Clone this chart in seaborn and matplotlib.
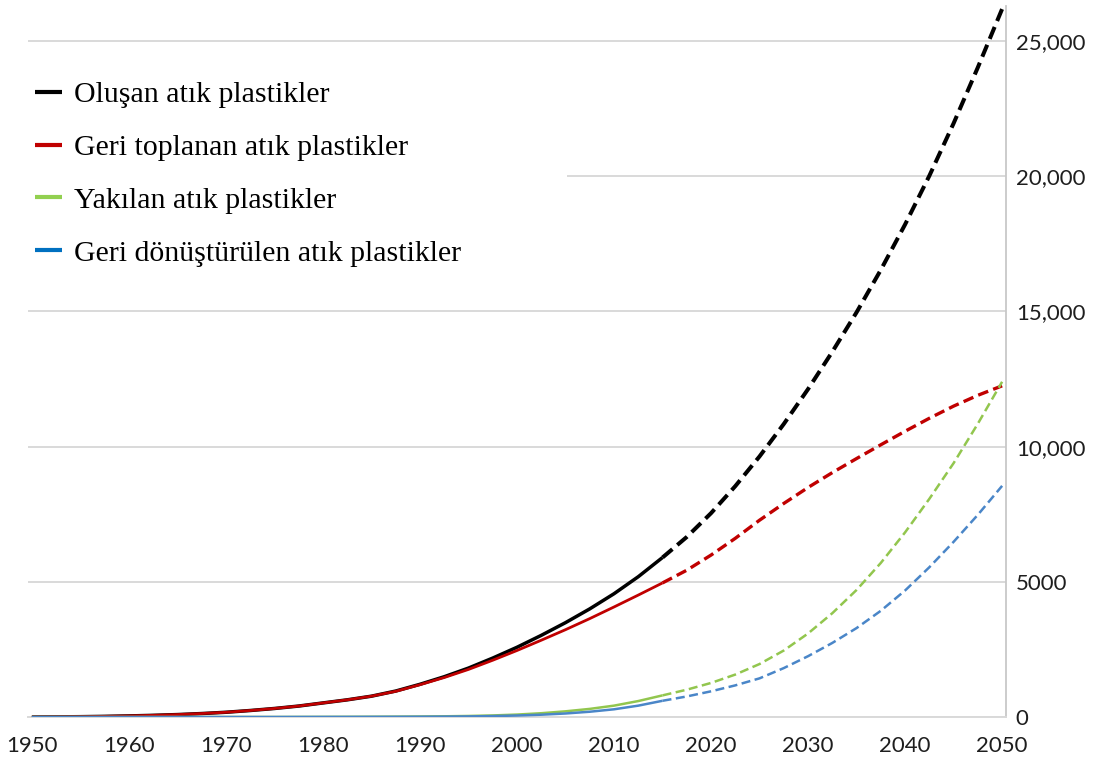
import matplotlib
matplotlib.use("Agg")
import matplotlib.pyplot as plt
import pandas as pd
import seaborn as sns
from matplotlib.lines import Line2D


# cumulative plastic waste, million tonnes (every 2.5 years)
YEARS_HIST = [1950, 1952.5, 1955, 1957.5, 1960, 1962.5, 1965, 1967.5, 1970, 1972.5,
              1975, 1977.5, 1980, 1982.5, 1985, 1987.5, 1990, 1992.5, 1995, 1997.5,
              2000, 2002.5, 2005, 2007.5, 2010, 2012.5, 2015]
YEARS_PROJ = [2015, 2017.5, 2020, 2022.5, 2025, 2027.5, 2030, 2032.5, 2035, 2037.5,
              2040, 2042.5, 2045, 2047.5, 2050]

GENERATED_HIST = [0, 5, 12, 24, 40, 62, 90, 128, 175, 240,
                  315, 405, 520, 635, 770, 960, 1210, 1490, 1810, 2180,
                  2580, 3020, 3490, 4000, 4560, 5190, 5900]
GENERATED_PROJ = [5900, 6660, 7540, 8540, 9640, 10840, 12130, 13510, 14970, 16540,
                  18220, 20020, 21960, 24030, 26190]
COLLECTED_HIST = [0, 5, 12, 24, 40, 62, 90, 128, 175, 240,
                  315, 405, 520, 635, 770, 950, 1195, 1460, 1760, 2100,
                  2460, 2840, 3230, 3640, 4070, 4510, 4960]
COLLECTED_PROJ = [4960, 5430, 5990, 6610, 7280, 7900, 8490, 9040, 9560, 10070,
                  10570, 11050, 11500, 11900, 12250]
INCINERATED_HIST = [0, 0, 0, 0, 0, 0, 0, 0, 0, 0,
                    0, 2, 4, 6, 9, 13, 18, 26, 38, 58,
                    90, 140, 210, 300, 420, 590, 800]
INCINERATED_PROJ = [800, 1010, 1260, 1570, 1960, 2460, 3090, 3840, 4700, 5700,
                    6830, 8070, 9390, 10850, 12400]
RECYCLED_HIST = [0, 0, 0, 0, 0, 0, 0, 0, 0, 0,
                 0, 1, 2, 3, 5, 7, 10, 15, 22, 35,
                 55, 85, 130, 195, 285, 420, 600]
RECYCLED_PROJ = [600, 760, 950, 1170, 1430, 1810, 2250, 2740, 3290, 3930,
                 4680, 5540, 6480, 7480, 8550]

LABELS = [
    "Oluşan atık plastikler",
    "Geri toplanan atık plastikler",
    "Yakılan atık plastikler",
    "Geri dönüştürülen atık plastikler",
]
LINE_COLORS = ["#000000", "#c00000", "#92c64e", "#4a86c8"]
LEGEND_COLORS = ["#000000", "#c00000", "#92d050", "#0070c0"]

X_TICKS = [1950, 1960, 1970, 1980, 1990, 2000, 2010, 2020, 2030, 2040, 2050]
Y_TICKS = [0, 5000, 10000, 15000, 20000, 25000]
Y_TICK_LABELS = ["0", "5000", "10,000", "15,000", "20,000", "25,000"]

sns.set_theme(style="white")
plt.rcParams["font.family"] = ["Lato", "DejaVu Sans"]


def build_frame():
    rows = []
    series = [
        (GENERATED_HIST, GENERATED_PROJ),
        (COLLECTED_HIST, COLLECTED_PROJ),
        (INCINERATED_HIST, INCINERATED_PROJ),
        (RECYCLED_HIST, RECYCLED_PROJ),
    ]
    for label, (hist, proj) in zip(LABELS, series):
        rows.append(pd.DataFrame({"year": YEARS_HIST, "value": hist, "seri": label, "donem": "gecmis"}))
        rows.append(pd.DataFrame({"year": YEARS_PROJ, "value": proj, "seri": label, "donem": "tahmin"}))
    return pd.concat(rows, ignore_index=True)


def main():
    df = build_frame()

    fig = plt.figure(figsize=(10.94, 7.6), dpi=100)
    ax = fig.add_axes([28 / 1094, 43 / 760, (1006 - 28) / 1094, (717 - 6) / 760])

    # line widths (pt) and dash patterns per series
    solid_lw = [2.5, 2.0, 1.8, 1.8]
    dash_lw = [2.9, 2.4, 1.8, 1.8]
    dash_pat = [(3.2, 1.6), (3.2, 1.6), (3.6, 1.8), (3.6, 1.8)]

    for i, label in enumerate(LABELS):
        sub = df[df["seri"] == label]
        sns.lineplot(
            data=sub[sub["donem"] == "gecmis"], x="year", y="value",
            color=LINE_COLORS[i], lw=solid_lw[i], errorbar=None, ax=ax,
            solid_capstyle="butt", zorder=3 + i,
        )
        sns.lineplot(
            data=sub[sub["donem"] == "tahmin"], x="year", y="value",
            color=LINE_COLORS[i], lw=dash_lw[i], errorbar=None, ax=ax,
            linestyle=(0, dash_pat[i]), zorder=3 + i,
        )

    ax.set_xlim(1949.6, 2050.4)
    ax.set_ylim(0, 26300)
    ax.set_xticks(X_TICKS)
    ax.set_yticks(Y_TICKS)
    ax.set_yticklabels(Y_TICK_LABELS)
    ax.yaxis.tick_right()
    ax.tick_params(axis="y", length=0, pad=7, labelsize=16, colors="#1e1e1e")
    ax.tick_params(axis="x", length=0, pad=14, labelsize=16, colors="#1e1e1e")
    ax.set_xlabel("")
    ax.set_ylabel("")

    ax.grid(axis="y", color="#d9d9d9", lw=1.4)
    ax.grid(axis="x", visible=False)
    for side in ["left", "top"]:
        ax.spines[side].set_visible(False)
    ax.spines["right"].set_color("#c8c8c8")
    ax.spines["right"].set_linewidth(1.3)
    ax.spines["bottom"].set_color("#d9d9d9")
    ax.spines["bottom"].set_linewidth(1.4)

    handles = [Line2D([0], [0], color=c, lw=3.0, solid_capstyle="butt") for c in LEGEND_COLORS]
    leg = ax.legend(
        handles, LABELS,
        loc="center left",
        bbox_to_anchor=(23 / 1094, 1 - 174 / 760, (567 - 23) / 1094, 0),
        bbox_transform=fig.transFigure,
        mode="expand",
        prop={"family": "Liberation Serif", "size": 21.5},
        labelcolor="black",
        handlelength=0.9,
        handletextpad=0.4,
        labelspacing=0.87,
        frameon=True,
        facecolor="white",
        edgecolor="none",
        framealpha=1.0,
        fancybox=False,
        borderaxespad=0,
    )
    leg.set_zorder(10)

    fig.savefig("out.png", dpi=100)
    plt.close(fig)


if __name__ == "__main__":
    main()
